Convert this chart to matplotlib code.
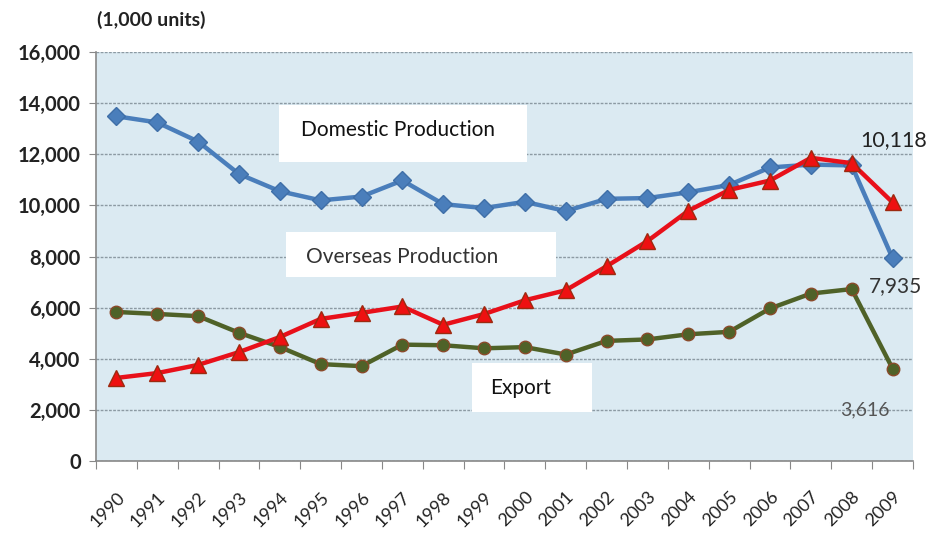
import numpy as np
import matplotlib.pyplot as plt
from matplotlib.ticker import FuncFormatter
from matplotlib.patches import Rectangle

years = [str(y) for y in range(1990, 2010)]
domestic = [13487, 13245, 12499, 11228, 10554, 10196, 10346, 10975, 10050, 9895,
            10141, 9777, 10257, 10286, 10512, 10800, 11484, 11596, 11564, 7935]
overseas = [3250, 3440, 3760, 4260, 4850, 5559, 5795, 6045, 5330, 5750,
            6288, 6680, 7620, 8605, 9788, 10606, 10973, 11860, 11652, 10118]
export = [5831, 5753, 5668, 5018, 4461, 3791, 3712, 4553, 4529, 4409,
          4455, 4166, 4699, 4756, 4958, 5053, 5967, 6550, 6727, 3616]

plt.rcParams['font.family'] = ['Lato', 'DejaVu Sans']

fig = plt.figure(figsize=(9.3, 5.38), dpi=100)
ax = fig.add_axes([0.1032, 0.1431, 0.8785, 0.7602])
ax.set_facecolor('#dbeaf2')

x = np.arange(len(years))
ax.plot(x, domestic, color='#4a7ebb', lw=3.2, marker='D', ms=9,
        mfc='#4a7ebb', mec='#3f6fa8', zorder=4)
ax.plot(x, overseas, color='#e8101a', lw=3.2, marker='^', ms=11,
        mfc='#ee1111', mec='#9c2a10', zorder=5)
ax.plot(x, export, color='#4f6228', lw=3.2, marker='o', ms=9,
        mfc='#4f6228', mec='#8a4a2a', zorder=3)

ax.set_xlim(-0.5, len(years) - 0.5)
ax.set_ylim(0, 16000)
ax.set_yticks(np.arange(0, 16001, 2000))
ax.yaxis.set_major_formatter(FuncFormatter(lambda v, p: f'{int(v):,}'))
ax.grid(axis='y', color='#8c9aa3', ls=(0, (2, 1)), lw=1)
ax.set_axisbelow(True)

# ticks between categories, labels at the centres
ax.set_xticks(np.arange(-0.5, len(years), 1.0))
ax.set_xticklabels([])
ax.set_xticks(x, minor=True)
ax.set_xticklabels(years, minor=True, rotation=45, ha='right',
                   rotation_mode='anchor', fontsize=13, color='#222222')
ax.tick_params(axis='x', which='minor', length=0, pad=20)
ax.tick_params(axis='x', which='major', length=6, color='#888888', direction='out')
ax.tick_params(axis='y', length=5, color='#888888', labelsize=14.5, pad=6)
for lab in ax.get_yticklabels():
    lab.set_fontweight('bold')
    lab.set_color('#222222')

for s in ['top', 'right']:
    ax.spines[s].set_visible(False)
for s in ['left', 'bottom']:
    ax.spines[s].set_color('#888888')
    ax.spines[s].set_linewidth(1.2)

fig.text(0.104, 0.962, '(1,000 units)', fontsize=14, fontweight='bold',
         color='#222222', va='center')

# white panels with the series names
ax.add_patch(Rectangle((3.98, 11700), 6.07, 2230, fc='white', ec='none', zorder=2))
ax.add_patch(Rectangle((4.15, 7200), 6.6, 1760, fc='white', ec='none', zorder=2))
ax.add_patch(Rectangle((8.7, 1920), 2.95, 1910, fc='white', ec='none', zorder=2))
ax.text(6.9, 12950, 'Domestic Production', fontsize=15, ha='center',
        va='center', color='#111111', zorder=6)
ax.text(7.0, 7980, 'Overseas Production', fontsize=15, ha='center',
        va='center', color='#333333', zorder=6)
ax.text(9.9, 2860, 'Export', fontsize=15, ha='center', va='center',
        color='#111111', zorder=6)

ax.annotate(f'{overseas[-1]:,}', (x[-1], overseas[-1]), xytext=(1, 45),
            textcoords='offset points', fontsize=15.5, ha='center', va='center',
            color='#222222', annotation_clip=False)
ax.annotate(f'{domestic[-1]:,}', (x[-1], domestic[-1]), xytext=(2, -20),
            textcoords='offset points', fontsize=15, ha='center', va='center',
            color='#333333', annotation_clip=False)
ax.annotate(f'{export[-1]:,}', (x[-1], export[-1]), xytext=(-20, -30),
            textcoords='offset points', fontsize=14, ha='center', va='center',
            color='#555555', annotation_clip=False)

fig.savefig('out.png', dpi=100)
